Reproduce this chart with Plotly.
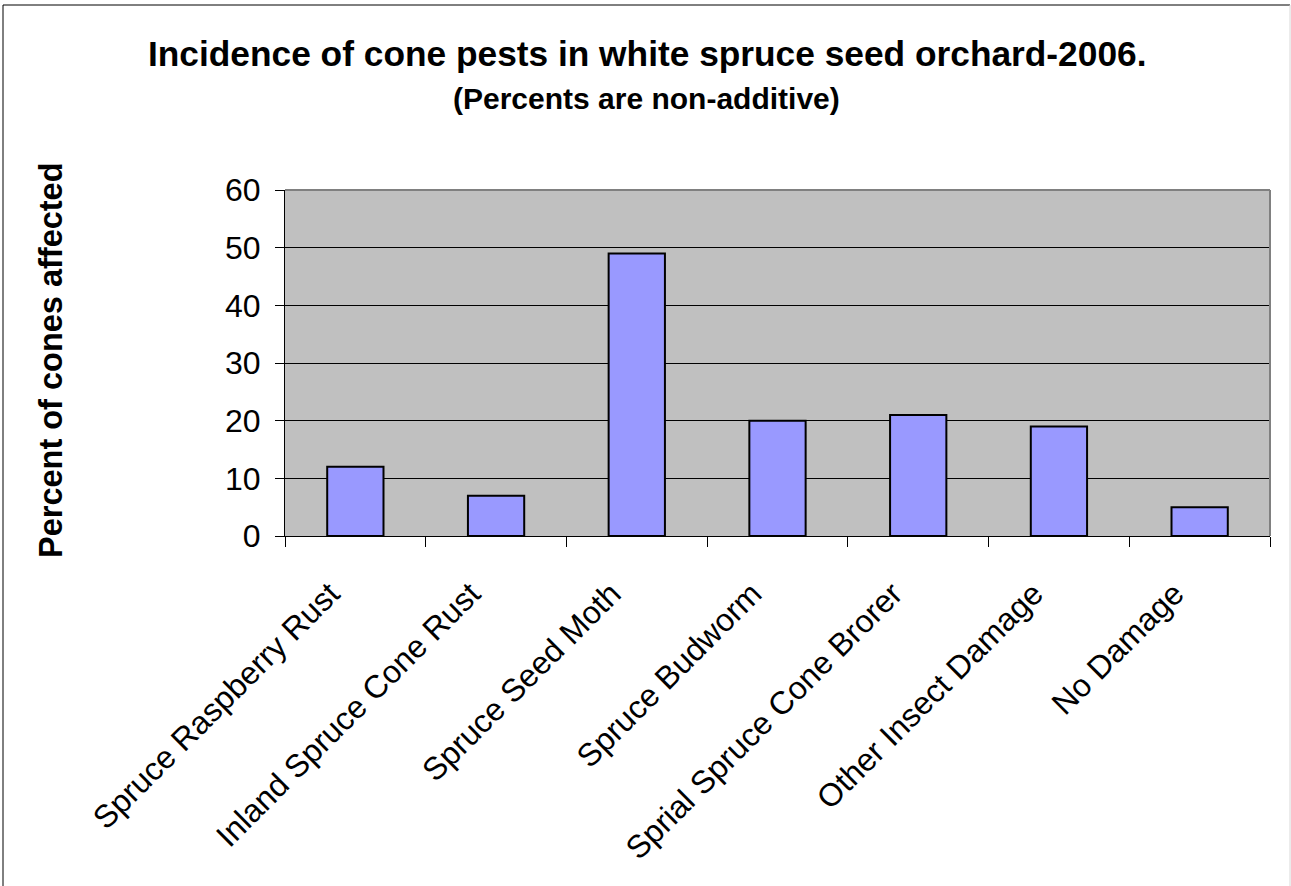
import plotly.graph_objects as go

# data
pests = [
    "Spruce Raspberry Rust",
    "Inland Spruce Cone Rust",
    "Spruce Seed Moth",
    "Spruce Budworm",
    "Sprial Spruce Cone Brorer",
    "Other Insect Damage",
    "No Damage",
]
pct_affected = [12, 7, 49, 20, 21, 19, 5]

y_ticks = [0, 10, 20, 30, 40, 50, 60]

FONT = "Arial, Liberation Sans, sans-serif"

# plot area in pixels (for placing things outside it)
L, R, T, B = 285, 1270, 190, 536
W, H = 1291, 886


def px(x):
    return (x - L) / (R - L)


def py(y):
    return (B - y) / (B - T)


fig = go.Figure()

fig.add_trace(go.Bar(
    x=pests, y=pct_affected,
    width=0.4,
    marker=dict(color="#9999FF", line=dict(color="black", width=2)),
    hoverinfo="x+y",
))

# trailing no-break spaces push the slanted labels further from the axis, like Excel does
pad = "\u00a0" * 4

fig.update_layout(
    width=W, height=H,
    margin=dict(l=L, r=W - R, t=T, b=H - B, autoexpand=False),
    paper_bgcolor="white",
    plot_bgcolor="#C0C0C0",
    font=dict(family=FONT, color="black"),
    showlegend=False,
    xaxis=dict(
        type="category",
        tickvals=pests,
        ticktext=[p + pad for p in pests],
        showline=True, linecolor="black", linewidth=1,
        ticks="outside", ticklen=10, tickcolor="black", tickwidth=1,
        tickson="boundaries",
        tickangle=-45,
        tickfont=dict(size=32, family=FONT, color="black"),
        showgrid=False,
        range=[-0.5, 6.5],
    ),
    yaxis=dict(
        range=[0, 60],
        tickvals=y_ticks,
        showline=True, linecolor="black", linewidth=1,
        ticks="outside", ticklen=9, tickcolor="black", tickwidth=1,
        ticklabelstandoff=8,
        tickfont=dict(size=32, family=FONT, color="black"),
        showgrid=True, gridcolor="black", gridwidth=1,
        zeroline=False,
    ),
    annotations=[
        dict(text="<b>Incidence of cone pests in white spruce seed orchard-2006.</b>",
             xref="paper", yref="paper", x=px(647), y=py(53),
             xanchor="center", yanchor="middle", showarrow=False,
             font=dict(size=35.3, family=FONT, color="black")),
        dict(text="<b>(Percents are non-additive)</b>",
             xref="paper", yref="paper", x=px(646), y=py(98),
             xanchor="center", yanchor="middle", showarrow=False,
             font=dict(size=30, family=FONT, color="black")),
        dict(text="<b>Percent of cones affected</b>",
             xref="paper", yref="paper", x=px(51), y=py(360),
             xanchor="center", yanchor="middle", showarrow=False, textangle=-90,
             font=dict(size=32.5, family=FONT, color="black")),
    ],
    shapes=[
        # outer chart border
        dict(type="line", xref="paper", yref="paper",
             x0=px(3), x1=px(3), y0=py(5), y1=py(900),
             line=dict(color="black", width=1)),
        dict(type="line", xref="paper", yref="paper",
             x0=px(3), x1=px(1290), y0=py(5), y1=py(5),
             line=dict(color="black", width=1)),
        dict(type="line", xref="paper", yref="paper",
             x0=px(1290), x1=px(1290), y0=py(5), y1=py(900),
             line=dict(color="#D8D8D8", width=1)),
        # grey plot-area frame on top and right
        dict(type="line", xref="paper", yref="paper", layer="above",
             x0=0, x1=1, y0=1, y1=1,
             line=dict(color="#808080", width=2)),
        dict(type="line", xref="paper", yref="paper", layer="above",
             x0=1, x1=1, y0=0, y1=1,
             line=dict(color="#808080", width=2)),
    ],
)

# drop the browser's default 8px body margin so the figure sits at the page corner
fig.write_html("out.html", config={"displayModeBar": False},
               post_script="document.body.style.margin = '0';")
